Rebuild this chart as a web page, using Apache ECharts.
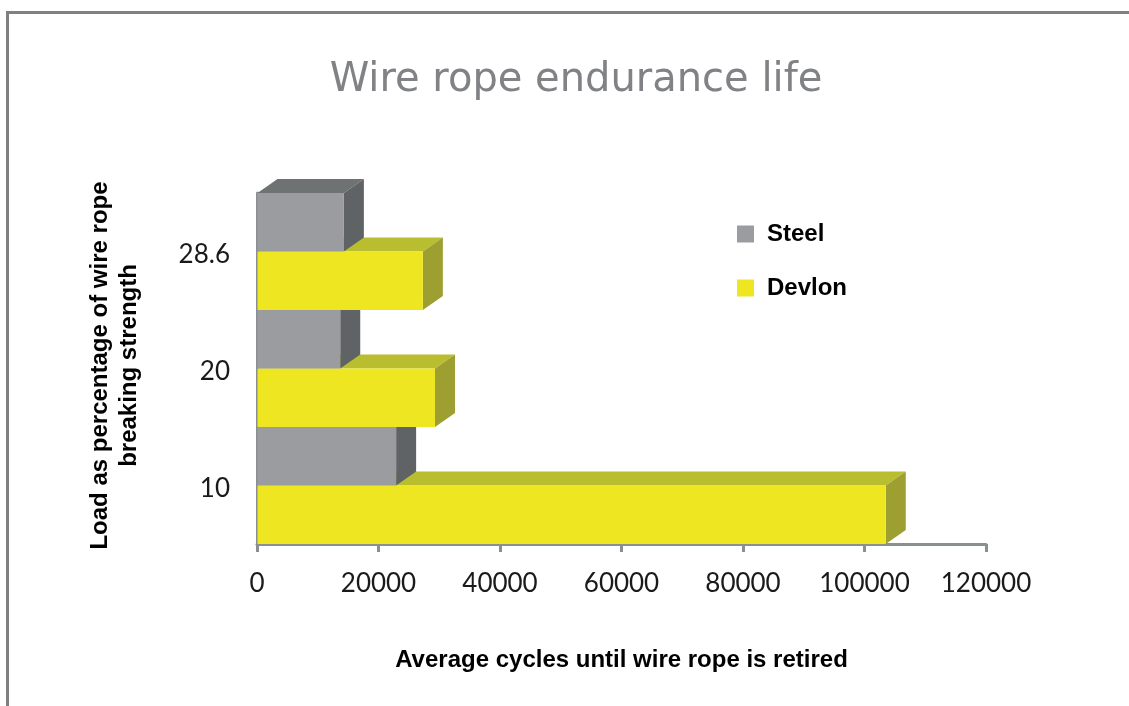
<!DOCTYPE html>
<html><head><meta charset="utf-8">
<style>html,body{margin:0;padding:0;background:#fff}#c{width:1129px;height:706px}</style>
<script src="https://cdn.jsdelivr.net/npm/echarts@6/dist/echarts.min.js"></script>
</head><body><div id="c"></div>
<script>
const categories = ['10', '20', '28.6'];
const steelValues = [22900, 13700, 14300];
const devlonValues = [103500, 29300, 27300];
const chartTitle = 'Wire rope endurance life';
const xName = 'Average cycles until wire rope is retired';
const yName = 'Load as percentage of wire rope\nbreaking strength';

const DX = 20, DY = 14;
const palette = {
  Steel:  {front: '#9A9C9F', top: '#6F7273', side: '#5F6365'},
  Devlon: {front: '#EEE620', top: '#B9BD30', side: '#9DA030'}
};
function box(name, upper) {
  const c = palette[name];
  return function (params, api) {
    const end = api.coord([api.value(0), api.value(1)]);
    const start = api.coord([0, api.value(1)]);
    const band = api.size([0, 1])[1];
    const y0 = upper ? start[1] - band / 2 : start[1];
    const y1 = y0 + band / 2;
    const x0 = start[0] + 0.5, x1 = end[0];
    const z2 = params.dataIndex * 2 + (upper ? 1 : 0);
    return {type: 'group', children: [
      {type: 'polygon', z2, shape: {points: [[x0, y0], [x0 + DX, y0 - DY], [x1 + DX, y0 - DY], [x1, y0]]}, style: {fill: c.top}},
      {type: 'polygon', z2, shape: {points: [[x1, y0], [x1 + DX, y0 - DY], [x1 + DX, y1 - DY], [x1, y1]]}, style: {fill: c.side}},
      {type: 'rect', z2, shape: {x: x0, y: y0, width: x1 - x0, height: y1 - y0}, style: {fill: c.front}}
    ]};
  };
}
const chart = echarts.init(document.getElementById('c'), null, {renderer: 'canvas'});
chart.setOption({
  animation: false,
  backgroundColor: '#fff',
  title: {text: chartTitle, left: 571, top: 56, textAlign: 'center',
    textStyle: {fontFamily: 'DejaVu Sans', fontWeight: 'normal', fontSize: 40, color: '#808285'}},
  legend: {left: 737, top: 222, orient: 'vertical', padding: 0, itemWidth: 17, itemHeight: 17, itemGap: 30,
    icon: 'rect', data: ['Steel', 'Devlon'],
    textStyle: {fontFamily: 'Liberation Sans', fontWeight: 'bold', fontSize: 24, color: '#000', padding: [0, 0, 0, 8]}},
  grid: {left: 257, right: 143, top: 193, bottom: 162},
  xAxis: {type: 'value', min: 0, max: 120000, interval: 20000, splitLine: {show: false},
    name: xName, nameLocation: 'middle', nameGap: 104,
    nameTextStyle: {fontFamily: 'Liberation Sans', fontWeight: 'bold', fontSize: 24, color: '#000'},
    axisLine: {show: true, lineStyle: {color: '#8A8F92', width: 3}},
    axisTick: {show: true, length: 8, lineStyle: {color: '#8A8F92', width: 3}},
    axisLabel: {show: true, margin: 27, fontFamily: 'Lato', fontSize: 26, color: '#1a1a1a', formatter: v => String(v)}},
  yAxis: {type: 'category', data: categories, boundaryGap: true,
    name: yName, nameLocation: 'middle', nameGap: 113, nameRotate: 90,
    nameTextStyle: {fontFamily: 'Liberation Sans', fontWeight: 'bold', fontSize: 24, lineHeight: 29, color: '#000', padding: [0, 0, 0, 6]},
    axisLine: {show: true, lineStyle: {color: '#8A8F92', width: 3}},
    axisTick: {show: false},
    axisLabel: {margin: 27, formatter: v => '{a|' + v + '}',
      rich: {a: {fontFamily: 'Lato', fontSize: 26, color: '#1a1a1a', padding: [6, 0, 0, 0]}}}},
  series: [
    {name: 'Steel', type: 'custom', clip: false, renderItem: box('Steel', true),
     itemStyle: {color: palette.Steel.front}, encode: {x: 0, y: 1},
     data: steelValues.map((v, i) => [v, i])},
    {name: 'Devlon', type: 'custom', clip: false, renderItem: box('Devlon', false),
     itemStyle: {color: palette.Devlon.front}, encode: {x: 0, y: 1},
     data: devlonValues.map((v, i) => [v, i])}
  ],
  graphic: [
    {type: 'rect', silent: true, z: 100, shape: {x: 6, y: 11, width: 1123, height: 3}, style: {fill: '#808080'}},
    {type: 'rect', silent: true, z: 100, shape: {x: 6, y: 11, width: 3, height: 695}, style: {fill: '#808080'}}
  ]
});
</script></body></html>
